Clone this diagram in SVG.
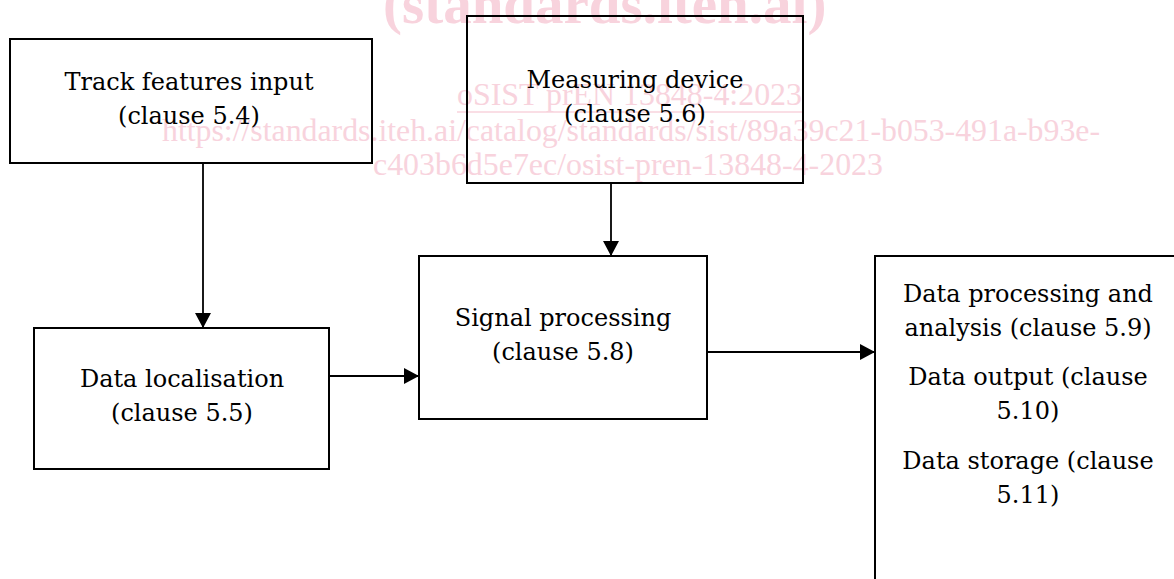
<svg xmlns="http://www.w3.org/2000/svg" width="1174" height="579" viewBox="0 0 1174 579">
  <style>
    .wm { font-family: "Liberation Serif", "Times New Roman", serif; fill: #f8d3dd; }
    .box { fill: none; stroke: #000; stroke-width: 2; }
    .lbl { font-family: "DejaVu Serif", "Liberation Serif", serif; font-size: 24px; fill: #000; text-anchor: middle; }
    .conn { fill: none; stroke: #000; stroke-width: 1.8; }
  </style>
  <defs>
    <marker id="arrow" markerUnits="userSpaceOnUse" markerWidth="15" markerHeight="16" refX="15" refY="8" orient="auto">
      <path d="M0,0 L15,8 L0,16 Z" fill="#000"/>
    </marker>
  </defs>
  <rect width="1174" height="579" fill="#fff"/>

  <g id="watermark">
    <text class="wm" x="383" y="23" font-size="57" font-weight="bold">(standards.iteh.ai)</text>
    <text class="wm" x="457" y="105" font-size="32" textLength="345" lengthAdjust="spacingAndGlyphs">oSIST prEN 13848-4:2023</text>
    <line x1="457" y1="112" x2="802" y2="112" stroke="#f8d3dd" stroke-width="1.5"/>
    <text class="wm" x="162" y="141" font-size="32" textLength="938" lengthAdjust="spacingAndGlyphs">https://standards.iteh.ai/catalog/standards/sist/89a39c21-b053-491a-b93e-</text>
    <text class="wm" x="373" y="175" font-size="32" textLength="510" lengthAdjust="spacingAndGlyphs">c403b6d5e7ec/osist-pren-13848-4-2023</text>
  </g>

  <g id="connectors">
    <path class="conn" d="M203,163 L203,328" marker-end="url(#arrow)"/>
    <path class="conn" d="M611,183 L611,256" marker-end="url(#arrow)"/>
    <path class="conn" d="M329,376 L419,376" marker-end="url(#arrow)"/>
    <path class="conn" d="M707,352 L875,352" marker-end="url(#arrow)"/>
  </g>

  <g id="node-track">
    <rect class="box" x="10" y="39" width="362" height="124"/>
    <text class="lbl" x="189" y="90">Track features input</text>
    <text class="lbl" x="189" y="124">(clause 5.4)</text>
  </g>

  <g id="node-measuring">
    <rect class="box" x="467" y="16" width="336" height="167"/>
    <text class="lbl" x="635" y="88">Measuring device</text>
    <text class="lbl" x="635" y="122">(clause 5.6)</text>
  </g>

  <g id="node-localisation">
    <rect class="box" x="34" y="328" width="295" height="141"/>
    <text class="lbl" x="182" y="387">Data localisation</text>
    <text class="lbl" x="182" y="421">(clause 5.5)</text>
  </g>

  <g id="node-signal">
    <rect class="box" x="419" y="256" width="288" height="163"/>
    <text class="lbl" x="563" y="326">Signal processing</text>
    <text class="lbl" x="563" y="360">(clause 5.8)</text>
  </g>

  <g id="node-output">
    <rect class="box" x="875" y="256" width="310" height="340"/>
    <text class="lbl" x="1028" y="302">Data processing and</text>
    <text class="lbl" x="1028" y="336">analysis (clause 5.9)</text>
    <text class="lbl" x="1028" y="385">Data output (clause</text>
    <text class="lbl" x="1028" y="419">5.10)</text>
    <text class="lbl" x="1028" y="469">Data storage (clause</text>
    <text class="lbl" x="1028" y="503">5.11)</text>
  </g>
</svg>
